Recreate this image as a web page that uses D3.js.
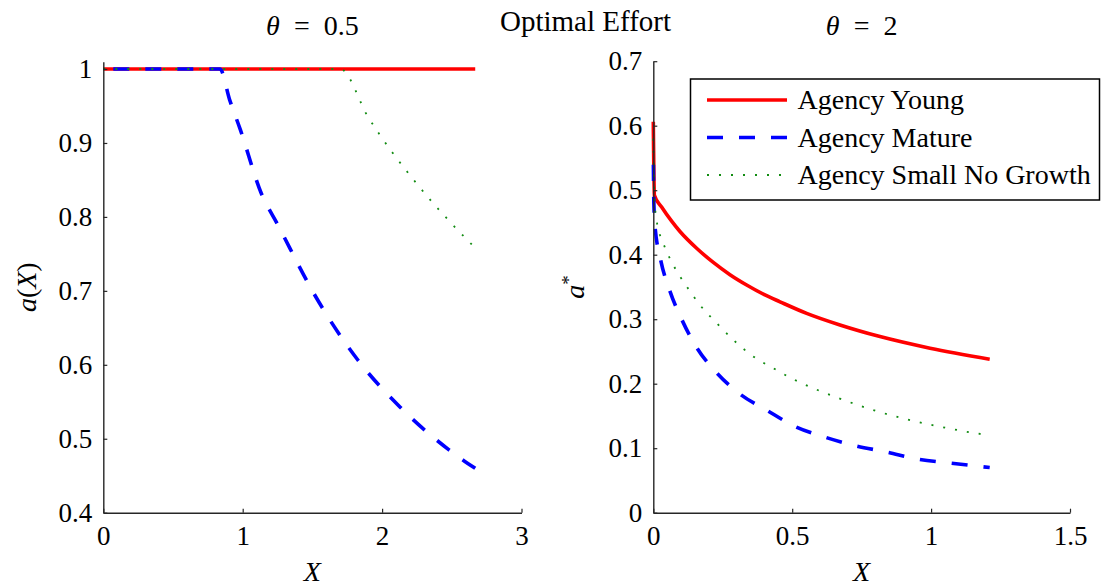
<!DOCTYPE html>
<html>
<head>
<meta charset="utf-8">
<script src="https://cdn.jsdelivr.net/npm/d3@7"></script>
<style>
  body { margin: 0; background: #fff; }
  svg { display: block; }
  text { font-family: "Liberation Serif", "Times New Roman", serif; fill: #000; }
</style>
</head>
<body>
<svg id="chart" width="1101" height="587"></svg>
<script>
// ---- data ----
const seriesNames = ['Agency Young', 'Agency Mature', 'Agency Small No Growth'];

// left panel, theta = 0.5
const leftYoungX = [0, 2.668];
const leftYoungA = [1, 1];
const leftMatureX = [0, 0.837, 0.907, 0.983, 1.133, 1.25, 1.524, 1.826, 2.128, 2.48, 2.668];
const leftMatureA = [1, 1, 0.958, 0.918, 0.832, 0.79, 0.692, 0.6065, 0.543, 0.485, 0.46];
const leftSmallX = [0, 1.70, 1.90, 2.257, 2.484, 2.668];
const leftSmallA = [1, 1, 0.935, 0.843, 0.794, 0.758];

// right panel, theta = 2
const rightYoungX = [0, 0.004, 0.03, 0.066, 0.096, 0.156, 0.216, 0.276, 0.336, 0.40, 0.456, 0.552, 0.672, 0.816, 0.996, 1.211];
const rightYoungA = [0.606, 0.492, 0.474, 0.452, 0.436, 0.41, 0.388, 0.369, 0.353, 0.338, 0.327, 0.309, 0.291, 0.273, 0.255, 0.238];
const rightMatureX = [0, 0.002, 0.006, 0.025, 0.057, 0.102, 0.156, 0.228, 0.312, 0.408, 0.504, 0.619, 0.726, 0.84, 0.954, 1.068, 1.211];
const rightMatureA = [0.555, 0.48, 0.445, 0.395, 0.347, 0.30, 0.256, 0.217, 0.184, 0.159, 0.135, 0.117, 0.104, 0.094, 0.083, 0.077, 0.07];
const rightSmallX = [0, 0.004, 0.012, 0.036, 0.072, 0.12, 0.168, 0.228, 0.288, 0.354, 0.432, 0.504, 0.581, 0.665, 0.785, 0.911, 1.037, 1.163, 1.211];
const rightSmallA = [0.58, 0.49, 0.453, 0.418, 0.384, 0.351, 0.322, 0.294, 0.268, 0.244, 0.224, 0.207, 0.192, 0.178, 0.160, 0.145, 0.133, 0.123, 0.12];

const leftXTicks = [0, 1, 2, 3];
const leftYTicks = [0.4, 0.5, 0.6, 0.7, 0.8, 0.9, 1];
const rightXTicks = [0, 0.5, 1, 1.5];
const rightYTicks = [0, 0.1, 0.2, 0.3, 0.4, 0.5, 0.6, 0.7];

// ---- styles ----
const styles = [
  {color: '#ff0000', width: 3.6, dash: null},
  {color: '#0000ff', width: 3.6, dash: '16,16'},
  {color: '#128c12', width: 1.8, dash: '2,10'}
];

const svg = d3.select('#chart');
const fontSize = 27;
const textSize = 28;

function zip(xs, ys) {
  return xs.map((x, i) => [x, ys[i]]);
}

function drawPanel({left, right, top, bottom, xDomain, yDomain, xTicks, yTicks, series, title, yLabel, blueOffset}) {
  const x = d3.scaleLinear().domain(xDomain).range([left, right]);
  const y = d3.scaleLinear().domain(yDomain).range([bottom, top]);
  const g = svg.append('g');

  const line = d3.line()
    .x((d) => x(d[0]))
    .y((d) => y(d[1]))
    .curve(d3.curveMonotoneX);

  series.forEach((s, i) => {
    const st = styles[i];
    g.append('path')
      .datum(s)
      .attr('fill', 'none')
      .attr('stroke', st.color)
      .attr('stroke-width', st.width)
      .attr('stroke-dasharray', st.dash)
      .attr('stroke-dashoffset', i === 1 ? blueOffset : 0)
      .attr('d', line);
  });

  const xAxis = g.append('g')
    .attr('transform', `translate(0,${bottom})`)
    .call(d3.axisBottom(x).tickValues(xTicks).tickFormat((d) => String(d))
      .tickSizeInner(-4).tickSizeOuter(0).tickPadding(13));
  const yAxis = g.append('g')
    .attr('transform', `translate(${left},0)`)
    .call(d3.axisLeft(y).tickValues(yTicks).tickFormat((d) => String(d))
      .tickSizeInner(-4).tickSizeOuter(0).tickPadding(11));

  [xAxis, yAxis].forEach((ax) => {
    ax.select('.domain').attr('stroke', '#262626').attr('stroke-width', 1.4);
    ax.selectAll('.tick line').attr('stroke', '#262626').attr('stroke-width', 1.2);
    ax.selectAll('.tick text')
      .style('font-family', '"Liberation Serif", serif')
      .style('font-size', fontSize + 'px')
      .attr('fill', '#000');
  });

  // title
  const t = g.append('text')
    .attr('x', (left + right) / 2)
    .attr('y', 35)
    .attr('text-anchor', 'middle')
    .style('font-size', textSize + 'px');
  t.append('tspan').attr('font-style', 'italic').text('θ');
  t.append('tspan').text('\u2002=\u2002' + title);

  // x label
  g.append('text')
    .attr('x', (left + right) / 2)
    .attr('y', 581)
    .attr('text-anchor', 'middle')
    .attr('font-style', 'italic')
    .style('font-size', textSize + 'px')
    .text('X');

  // y label
  const yl = g.append('text')
    .attr('transform', `translate(${yLabel.x},${(top + bottom) / 2}) rotate(-90)`)
    .attr('text-anchor', 'middle')
    .style('font-size', textSize + 'px');
  yLabel.parts.forEach((p) => {
    const ts = yl.append('tspan').text(p.text);
    if (p.italic) ts.attr('font-style', 'italic');
    if (p.sup) ts.attr('dy', '-0.45em').style('font-size', '19px');
  });

  return {x, y};
}

drawPanel({
  left: 103.3, right: 521.5, top: 61.7, bottom: 512.7,
  xDomain: [0, 3], yDomain: [0.4, 1.0099],
  xTicks: leftXTicks, yTicks: leftYTicks,
  series: [zip(leftYoungX, leftYoungA), zip(leftMatureX, leftMatureA), zip(leftSmallX, leftSmallA)],
  title: '0.5',
  yLabel: {x: 36, parts: [{text: 'a', italic: true}, {text: '('}, {text: 'X', italic: true}, {text: ')'}]},
  blueOffset: 22
});

drawPanel({
  left: 653.3, right: 1070, top: 61.2, bottom: 512.7,
  xDomain: [0, 1.5], yDomain: [0, 0.7],
  xTicks: rightXTicks, yTicks: rightYTicks,
  series: [zip(rightYoungX, rightYoungA), zip(rightMatureX, rightMatureA), zip(rightSmallX, rightSmallA)],
  title: '2',
  yLabel: {x: 584, parts: [{text: 'a', italic: true}, {text: '*', sup: true}]},
  blueOffset: 22
});

// overall title
svg.append('text')
  .attr('x', 585.5)
  .attr('y', 31)
  .attr('text-anchor', 'middle')
  .style('font-size', '29px')
  .text('Optimal Effort');

// legend
const legend = svg.append('g').attr('transform', 'translate(690.5,79)');
legend.append('rect')
  .attr('width', 409)
  .attr('height', 121)
  .attr('fill', '#fff')
  .attr('stroke', '#000')
  .attr('stroke-width', 1.5);

const rowY = d3.scalePoint().domain(seriesNames).range([21, 96]);
seriesNames.forEach((name, i) => {
  const st = styles[i];
  legend.append('line')
    .attr('x1', 16.5).attr('x2', 96.5)
    .attr('y1', rowY(name)).attr('y2', rowY(name))
    .attr('stroke', st.color)
    .attr('stroke-width', st.width)
    .attr('stroke-dasharray', st.dash);
  legend.append('text')
    .attr('x', 107)
    .attr('y', rowY(name))
    .attr('dy', '0.33em')
    .style('font-size', textSize + 'px')
    .text(name);
});
</script>
</body>
</html>
